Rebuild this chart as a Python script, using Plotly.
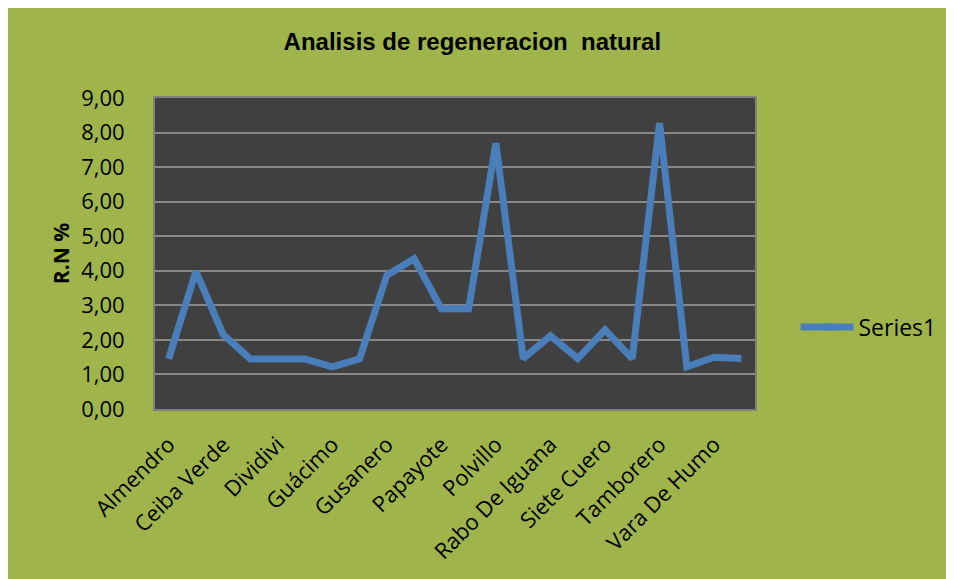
import plotly.graph_objects as go

categories = ["Almendro", "Caoba", "Ceiba Verde", "Cortez", "Dividivi", "Espino",
              "Guácimo", "Guayacán", "Gusanero", "Laurel", "Papayote", "Pimiento",
              "Polvillo", "Quebracho", "Rabo De Iguana", "Roble", "Siete Cuero",
              "Solera", "Tamborero", "Trompillo", "Vara De Humo", "Zapotillo"]
values = [1.45, 3.98, 2.15, 1.45, 1.45, 1.45, 1.22, 1.45, 3.87, 4.35, 2.90,
          2.90, 7.69, 1.46, 2.12, 1.46, 2.29, 1.46, 8.27, 1.22, 1.50, 1.46]
shown_labels = categories[::2]
y_ticks = [0, 1, 2, 3, 4, 5, 6, 7, 8, 9]

GREEN = "#9fb54c"
LINE = "#4a7ebb"
fig = go.Figure()
fig.add_trace(go.Scatter(
    x=categories, y=values, mode="lines", name="Series1",
    line=dict(color=LINE, width=7),
))

OFF = 8  # page body margin
W, H = 954 - OFF, 579 - OFF
L, T = 155 - OFF, 98 - OFF
R, B = 954 - 760, 579 - 409
pw, ph = W - L - R, H - T - B

fig.update_layout(
    width=W, height=H,
    margin=dict(l=L, r=R, t=T, b=B),
    paper_bgcolor=GREEN,
    plot_bgcolor="#404040",
    separators=",.",
    title=dict(text="<b>Analisis de regeneracion  natural</b>",
               x=(475 - 155) / pw, xref="paper", xanchor="center",
               y=1 - (42 - OFF) / H, yanchor="middle",
               font=dict(family="Liberation Sans Narrow, Liberation Sans, Arial", size=24, color="black")),
    showlegend=True,
    legend=dict(x=(824 - 155) / pw, xanchor="left", y=(409 - 327) / ph, yanchor="middle",
                bgcolor="rgba(0,0,0,0)", font=dict(family="Open Sans", size=23, color="black")),
    shapes=[dict(type="line", xref="paper", yref="paper",
                 x0=(806 - 155) / pw, x1=(840 - 155) / pw,
                 y0=(409 - 327) / ph, y1=(409 - 327) / ph,
                 line=dict(color=LINE, width=7))],
)
fig.update_xaxes(
    type="category", tickmode="array", tickvals=shown_labels, ticktext=shown_labels,
    tickangle=-45, tickfont=dict(family="Open Sans", size=22, color="black"),
    showgrid=False, showline=True, linecolor="#808080", linewidth=2, mirror=True,
    ticks="", ticklabelstandoff=12, range=[-0.5, len(categories) - 0.5],
)
fig.update_yaxes(
    range=[0, 9], tickvals=y_ticks, tickformat=".2f",
    tickfont=dict(family="Open Sans", size=22, color="black"),
    showgrid=True, gridcolor="#888888", gridwidth=2,
    showline=True, linecolor="#808080", linewidth=2, mirror=True,
    ticks="", ticklabelstandoff=24, zeroline=False,
    title=dict(text="<b>R.N %</b>", font=dict(family="Open Sans", size=21, color="black"), standoff=6),
)
fig.write_html("out.html")
